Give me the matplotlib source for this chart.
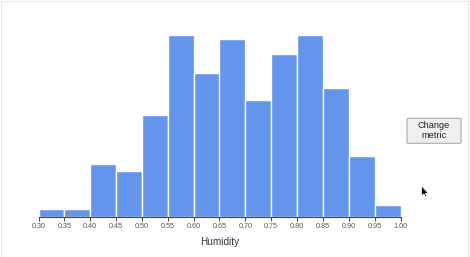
import matplotlib
matplotlib.use("Agg")
import matplotlib.pyplot as plt
from matplotlib.patches import FancyBboxPatch, Polygon, Rectangle
import numpy as np

bin_edges = [0.30, 0.35, 0.40, 0.45, 0.50, 0.55, 0.60, 0.65, 0.70, 0.75, 0.80, 0.85, 0.90, 0.95, 1.00]
counts = [2, 2, 14, 12, 27, 48, 38, 47, 31, 43, 48, 34, 16, 3]
tick_labels = ["%.2f" % e for e in bin_edges]
x_label = "Humidity"
button_text = "Change\nmetric"

plt.rcParams['font.family'] = ['Liberation Sans', 'DejaVu Sans']

W, H = 470, 257
fig = plt.figure(figsize=(W / 100, H / 100), dpi=100)
fig.patch.set_facecolor("white")

left = 38.5 / W
right = 400.5 / W
bottom = (H - 216.7) / H
top = (H - 35.3) / H
ax = fig.add_axes([left, bottom, right - left, top - bottom])

lefts = bin_edges[:-1]
widths = np.diff(bin_edges)
ax.bar(lefts, counts, width=widths, align="edge", color="#6495ED",
       edgecolor="white", linewidth=1.0)

ax.set_xlim(bin_edges[0], bin_edges[-1])
ax.set_ylim(0, max(counts))
ax.set_xticks(bin_edges)
ax.set_xticklabels(tick_labels, fontsize=5.2, color="#555555")
ax.tick_params(axis="x", length=3, width=0.7, color="#444444", pad=1.5)
ax.set_yticks([])
for s in ["top", "right", "left"]:
    ax.spines[s].set_visible(False)
ax.spines["bottom"].set_color("#444444")
ax.spines["bottom"].set_linewidth(0.8)
ax.set_xlabel(x_label, fontsize=7.2, color="#333333", labelpad=5)

# button
bx0, by0, bx1, by1 = 407, 118.3, 461, 143.3
btn = FancyBboxPatch((bx0 / W, 1 - by1 / H), (bx1 - bx0) / W, (by1 - by0) / H,
                     boxstyle="round,pad=0,rounding_size=0.004",
                     transform=fig.transFigure, facecolor="#efefef",
                     edgecolor="#aaaaaa", linewidth=0.8)
fig.patches.append(btn)
fig.text((bx0 + bx1) / 2 / W, 1 - (by0 + by1) / 2 / H, button_text,
         ha="center", va="center", fontsize=6.6, color="#222222",
         linespacing=1.15)

# cursor
cx, cy = 421.5, 186
pts = [(0, 0), (0, 10), (2.3, 7.8), (4, 11), (5.3, 10.4), (3.7, 7.3), (6.8, 7.1)]
cursor = Polygon([((cx + px) / W, 1 - (cy + py) / H) for px, py in pts],
                 closed=True, transform=fig.transFigure,
                 facecolor="black", edgecolor="white", linewidth=0.5)
fig.patches.append(cursor)

# light frame
frame = Rectangle((0.5 / W, 0.5 / H), 1 - 2.5 / W, 1 - 1.5 / H,
                  transform=fig.transFigure, fill=False,
                  edgecolor="#e6e6e6", linewidth=0.8)
fig.patches.append(frame)

fig.savefig("out.png", dpi=100)
